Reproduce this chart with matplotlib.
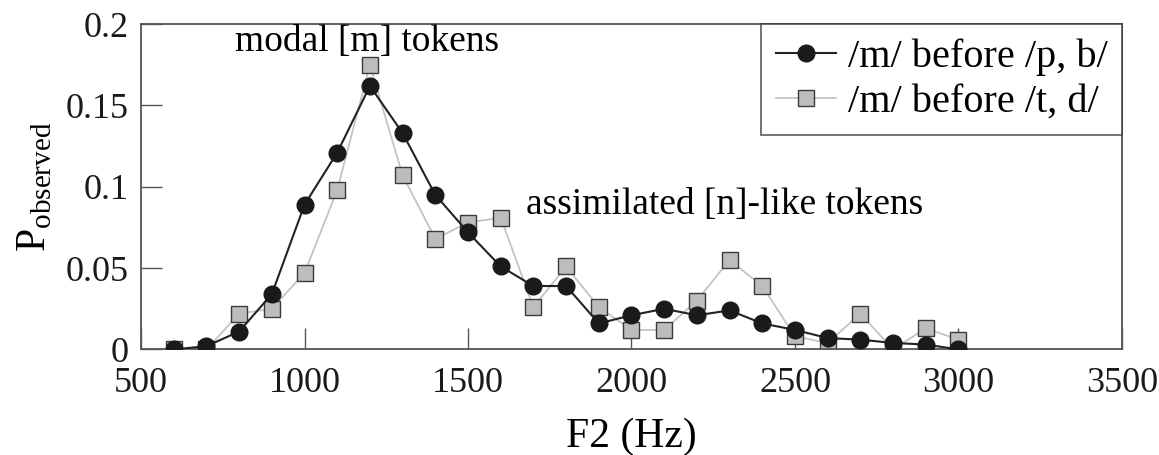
import matplotlib
matplotlib.use("Agg")
import matplotlib.pyplot as plt

# F2 bins (Hz)
f2 = [600, 700, 800, 900, 1000, 1100, 1200, 1300, 1400, 1500, 1600, 1700, 1800,
      1900, 2000, 2100, 2200, 2300, 2400, 2500, 2600, 2700, 2800, 2900, 3000]

# /m/ before /p, b/
p_pb = [0.0, 0.002, 0.011, 0.034, 0.089, 0.121, 0.162, 0.133, 0.095, 0.072, 0.051, 0.039, 0.039,
        0.016, 0.021, 0.025, 0.021, 0.024, 0.016, 0.012, 0.007, 0.006, 0.004, 0.003, 0.0]

# /m/ before /t, d/
p_td = [0.0, 0.0, 0.022, 0.025, 0.047, 0.098, 0.175, 0.107, 0.068, 0.078, 0.081, 0.026, 0.051,
        0.026, 0.012, 0.012, 0.030, 0.055, 0.039, 0.008, 0.004, 0.022, 0.0, 0.013, 0.006]

xticks = [500, 1000, 1500, 2000, 2500, 3000, 3500]
yticks = [0, 0.05, 0.1, 0.15, 0.2]
ytick_labels = ["0", "0.05", "0.1", "0.15", "0.2"]

plt.rcParams['font.family'] = ['Liberation Serif', 'DejaVu Serif']
plt.rcParams['mathtext.fontset'] = 'custom'
plt.rcParams['mathtext.rm'] = 'Liberation Serif'

fig = plt.figure(figsize=(11.59, 4.55), dpi=100)
ax = fig.add_axes([0.1217, 0.232, 0.8463, 0.715])

ax.plot(f2, p_td, color='#c4c4c4', lw=1.3, marker='s', ms=11.5,
        mfc='#bdbdbd', mec='#3a3a3a', mew=1.0, label='/m/ before /t, d/', zorder=2)
ax.plot(f2, p_pb, color='#222222', lw=1.5, marker='o', ms=12,
        mfc='#1a1a1a', mec='#1a1a1a', label='/m/ before /p, b/', zorder=3)

ax.set_xlim(500, 3500)
ax.set_ylim(0, 0.2)
ax.set_xticks(xticks)
ax.set_yticks(yticks)
ax.set_yticklabels(ytick_labels)
ax.tick_params(direction='in', length=15, width=1, labelsize=26, colors='#555555',
               labelcolor='#1a1a1a')
ax.tick_params(axis='x', pad=13)
ax.tick_params(axis='y', pad=9)
for sp in ax.spines.values():
    sp.set_color('#555555')
    sp.set_linewidth(1.3)

ax.set_xlabel('F2 (Hz)', fontsize=30, labelpad=12)
ax.set_ylabel(r'P$_{\mathrm{observed}}$', fontsize=30, labelpad=8)

ax.text(1191, 0.189, 'modal [m] tokens', fontsize=27, ha='center', va='center')
ax.text(2286, 0.089, 'assimilated [n]-like tokens', fontsize=27, ha='center', va='center')

handles, labels = ax.get_legend_handles_labels()
leg = ax.legend(handles[::-1], labels[::-1], loc='upper right', fontsize=29,
                frameon=True, fancybox=False, edgecolor='#333333',
                borderaxespad=0, handlelength=1.5, handletextpad=0.3,
                borderpad=0.35, labelspacing=0.2)
leg.get_frame().set_linewidth(1.2)

fig.savefig('out.png', dpi=100)
